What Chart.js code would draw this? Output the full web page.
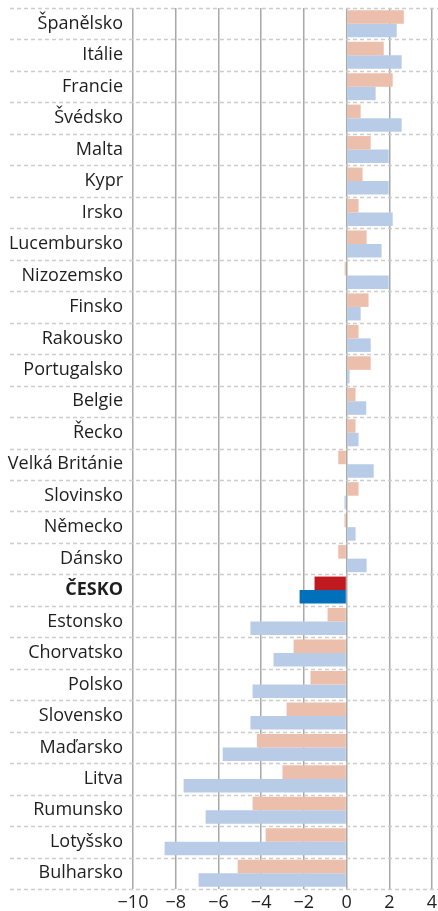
<!DOCTYPE html>
<html>
<head>
<meta charset="utf-8">
<script src="https://cdn.jsdelivr.net/npm/chart.js@4"></script>
<style>
  html, body { margin: 0; padding: 0; background: #fff; }
  canvas { display: block; }
</style>
</head>
<body>
<canvas id="growthChart" width="438" height="911"></canvas>
<script>
var countries = ['Španělsko', 'Itálie', 'Francie', 'Švédsko', 'Malta', 'Kypr', 'Irsko', 'Lucembursko',
  'Nizozemsko', 'Finsko', 'Rakousko', 'Portugalsko', 'Belgie', 'Řecko', 'Velká Británie', 'Slovinsko',
  'Německo', 'Dánsko', 'ČESKO', 'Estonsko', 'Chorvatsko', 'Polsko', 'Slovensko', 'Maďarsko', 'Litva',
  'Rumunsko', 'Lotyšsko', 'Bulharsko'];
var seriesA = [2.68, 1.74, 2.16, 0.66, 1.13, 0.75, 0.56, 0.94, -0.09, 1.03, 0.56, 1.13, 0.42, 0.42, -0.39, 0.56,
  -0.1, -0.39, -1.5, -0.89, -2.48, -1.69, -2.81, -4.2, -3.0, -4.4, -3.79, -5.1];
var seriesB = [2.35, 2.58, 1.36, 2.58, 1.97, 1.97, 2.16, 1.64, 1.97, 0.66, 1.13, 0.14, 0.92, 0.56, 1.27, -0.1,
  0.42, 0.94, -2.2, -4.5, -3.42, -4.4, -4.5, -5.8, -7.63, -6.6, -8.52, -6.93];
var xTicks = [-10, -8, -6, -4, -2, 0, 2, 4];
var highlight = 'ČESKO';

var FONT = '"Open Sans", "Noto Sans", sans-serif';

// colours per bar, the highlighted country gets the strong ones
var colorsA = countries.map(function (c) { return c === highlight ? '#c0191f' : '#ebbfac'; });
var colorsB = countries.map(function (c) { return c === highlight ? '#0070bb' : '#b8cce8'; });

// dashed separators between rows, running into the label area too
var rowLines = {
  id: 'rowLines',
  beforeDatasetsDraw: function (chart) {
    var ctx = chart.ctx, area = chart.chartArea;
    var n = chart.scales.y.ticks.length;
    var step = (area.bottom - area.top) / n;
    ctx.save();
    ctx.strokeStyle = '#cccccc';
    ctx.lineWidth = 1.5;
    ctx.setLineDash([4, 3]);
    for (var i = 0; i <= n; i++) {
      var y = Math.round(area.top + i * step) + 0.5;
      ctx.beginPath();
      ctx.moveTo(10, y);
      ctx.lineTo(chart.width, y);
      ctx.stroke();
    }
    ctx.restore();
  }
};

var chart = new Chart(document.getElementById('growthChart'), {
  type: 'bar',
  data: {
    labels: countries,
    datasets: [{
      data: seriesA,
      backgroundColor: colorsA,
      borderWidth: 0,
      barPercentage: 1,
      categoryPercentage: 0.86
    }, {
      data: seriesB,
      backgroundColor: colorsB,
      borderWidth: 0,
      barPercentage: 1,
      categoryPercentage: 0.86
    }]
  },
  options: {
    indexAxis: 'y',
    responsive: false,
    animation: false,
    layout: { padding: { top: 8, right: 6, left: 0, bottom: 0 } },
    plugins: {
      legend: { display: false },
      tooltip: { enabled: false }
    },
    scales: {
      x: {
        min: -10,
        max: 4,
        afterBuildTicks: function (scale) {
          scale.ticks = xTicks.map(function (v) { return { value: v }; });
        },
        afterFit: function (scale) {
          scale.height = 22;
          scale.paddingLeft = 0;
          scale.paddingRight = 0;
        },
        grid: { color: '#a8a8a8', lineWidth: 1.5, drawTicks: false },
        border: { display: false },
        ticks: {
          padding: 3,
          color: '#1e1e1e',
          font: { family: FONT, size: 18 },
          callback: function (v) { return String(v).replace('-', '\u2212'); }
        }
      },
      y: {
        afterFit: function (scale) {
          scale.width = 133;
          scale.paddingTop = 0;
          scale.paddingBottom = 0;
        },
        grid: { display: false, drawTicks: false },
        border: { display: false },
        ticks: {
          padding: 10,
          color: '#1e1e1e',
          font: function (ctx) {
            var bold = ctx.tick && ctx.tick.label === highlight;
            return { family: FONT, size: 18, weight: bold ? 'bold' : 'normal' };
          }
        }
      }
    }
  },
  plugins: [rowLines]
});
</script>
</body>
</html>
